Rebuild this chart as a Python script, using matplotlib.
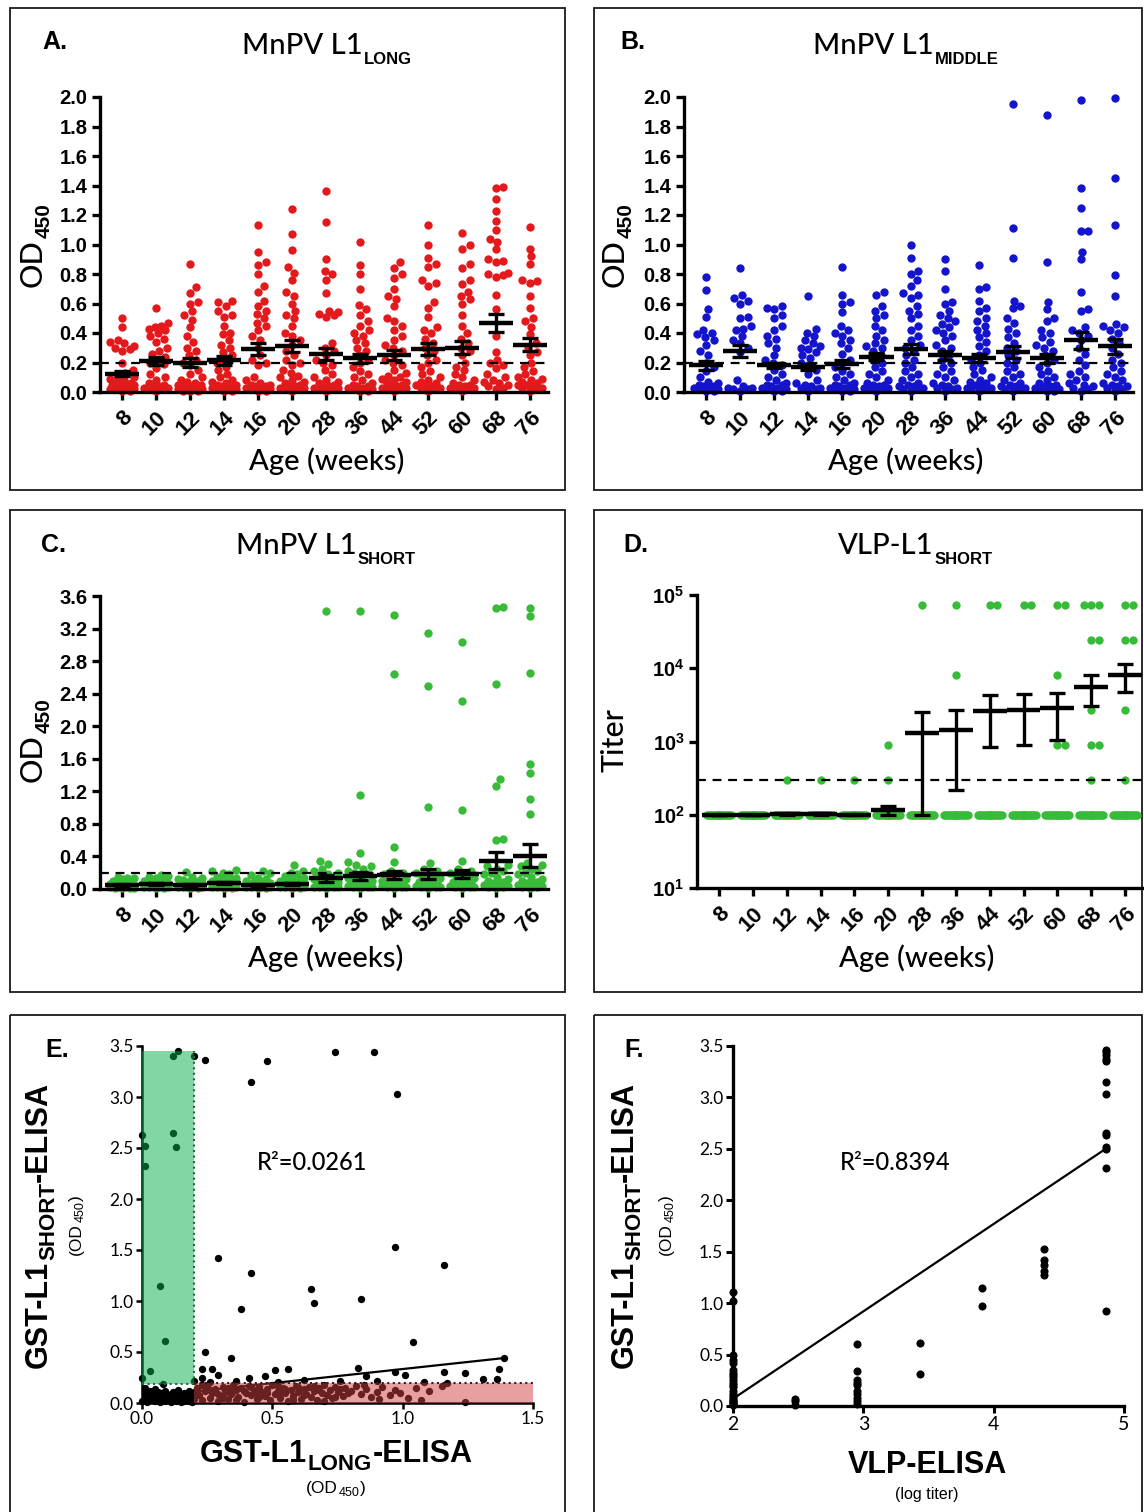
import numpy as np
import matplotlib
matplotlib.use('Agg')
import matplotlib.pyplot as plt
from matplotlib import font_manager as fm
from matplotlib.patches import Rectangle

# ---------------- data ----------------
ages = ['8', '10', '12', '14', '16', '20', '28', '36', '44', '52', '60', '68', '76']

long_vals = [
    [0.50, 0.44, 0.35, 0.34, 0.33, 0.31, 0.30, 0.29, 0.28, 0.20, 0.15, 0.13, 0.11, 0.10, 0.09, 0.08, 0.07, 0.06, 0.06, 0.05, 0.05, 0.05, 0.04, 0.04, 0.04, 0.03, 0.03, 0.03, 0.02, 0.02, 0.02, 0.01, 0.01],
    [0.57, 0.47, 0.45, 0.44, 0.43, 0.42, 0.40, 0.38, 0.36, 0.34, 0.30, 0.28, 0.26, 0.24, 0.22, 0.20, 0.19, 0.16, 0.12, 0.10, 0.08, 0.06, 0.05, 0.04, 0.04, 0.03, 0.03, 0.02, 0.02, 0.01],
    [0.87, 0.71, 0.67, 0.61, 0.60, 0.55, 0.52, 0.49, 0.44, 0.38, 0.34, 0.30, 0.28, 0.25, 0.22, 0.20, 0.18, 0.15, 0.12, 0.10, 0.08, 0.07, 0.06, 0.05, 0.05, 0.04, 0.04, 0.03, 0.03, 0.03, 0.02, 0.02, 0.02, 0.01, 0.01, 0.01],
    [0.62, 0.61, 0.58, 0.55, 0.52, 0.51, 0.45, 0.40, 0.39, 0.35, 0.32, 0.30, 0.27, 0.25, 0.22, 0.20, 0.17, 0.15, 0.12, 0.10, 0.08, 0.07, 0.06, 0.05, 0.05, 0.04, 0.04, 0.03, 0.03, 0.02, 0.02, 0.01, 0.01],
    [1.13, 0.95, 0.88, 0.86, 0.80, 0.72, 0.68, 0.62, 0.58, 0.55, 0.53, 0.50, 0.47, 0.45, 0.42, 0.38, 0.35, 0.30, 0.25, 0.22, 0.20, 0.18, 0.10, 0.08, 0.06, 0.05, 0.05, 0.04, 0.04, 0.03, 0.03, 0.02, 0.02, 0.01, 0.01],
    [1.24, 1.07, 0.96, 0.85, 0.81, 0.76, 0.68, 0.65, 0.60, 0.55, 0.52, 0.50, 0.45, 0.40, 0.38, 0.35, 0.32, 0.28, 0.25, 0.22, 0.20, 0.18, 0.15, 0.13, 0.11, 0.10, 0.08, 0.07, 0.06, 0.05, 0.04, 0.04, 0.03, 0.03, 0.02, 0.02, 0.01],
    [1.36, 1.15, 0.90, 0.82, 0.80, 0.76, 0.67, 0.55, 0.54, 0.53, 0.52, 0.51, 0.33, 0.30, 0.28, 0.25, 0.22, 0.20, 0.18, 0.15, 0.12, 0.10, 0.08, 0.07, 0.06, 0.05, 0.04, 0.04, 0.03, 0.03, 0.02, 0.02, 0.01],
    [1.02, 0.86, 0.80, 0.70, 0.59, 0.56, 0.52, 0.48, 0.45, 0.42, 0.40, 0.38, 0.35, 0.33, 0.30, 0.28, 0.25, 0.22, 0.20, 0.17, 0.14, 0.12, 0.10, 0.08, 0.06, 0.05, 0.04, 0.04, 0.03, 0.03, 0.02, 0.02, 0.01, 0.01],
    [0.88, 0.84, 0.80, 0.77, 0.70, 0.65, 0.63, 0.58, 0.50, 0.48, 0.45, 0.42, 0.38, 0.35, 0.32, 0.30, 0.28, 0.25, 0.22, 0.20, 0.18, 0.15, 0.13, 0.11, 0.10, 0.09, 0.08, 0.07, 0.06, 0.05, 0.04, 0.04, 0.03, 0.03, 0.02, 0.02, 0.01],
    [1.13, 1.00, 0.91, 0.87, 0.85, 0.76, 0.74, 0.72, 0.61, 0.57, 0.51, 0.44, 0.42, 0.40, 0.36, 0.33, 0.30, 0.28, 0.25, 0.22, 0.20, 0.17, 0.14, 0.12, 0.10, 0.08, 0.07, 0.06, 0.05, 0.04, 0.04, 0.03, 0.03, 0.02, 0.01],
    [1.08, 1.00, 0.97, 0.87, 0.84, 0.76, 0.73, 0.68, 0.65, 0.63, 0.60, 0.52, 0.45, 0.40, 0.36, 0.33, 0.30, 0.28, 0.25, 0.20, 0.17, 0.15, 0.12, 0.10, 0.08, 0.06, 0.05, 0.05, 0.04, 0.03, 0.03, 0.02, 0.02, 0.01],
    [1.39, 1.38, 1.31, 1.23, 1.16, 1.10, 1.04, 1.02, 0.97, 0.90, 0.89, 0.88, 0.81, 0.80, 0.79, 0.78, 0.66, 0.56, 0.38, 0.27, 0.22, 0.20, 0.18, 0.16, 0.12, 0.10, 0.08, 0.07, 0.06, 0.05, 0.04, 0.03, 0.02],
    [1.12, 0.97, 0.92, 0.87, 0.76, 0.75, 0.74, 0.65, 0.57, 0.50, 0.48, 0.44, 0.39, 0.33, 0.30, 0.27, 0.25, 0.20, 0.17, 0.14, 0.12, 0.10, 0.09, 0.08, 0.07, 0.06, 0.05, 0.05, 0.04, 0.03, 0.03, 0.02, 0.01],
]
long_mean = [0.125, 0.21, 0.20, 0.215, 0.29, 0.31, 0.26, 0.23, 0.25, 0.29, 0.30, 0.47, 0.32]
long_sem = [0.015, 0.03, 0.03, 0.03, 0.04, 0.04, 0.04, 0.03, 0.035, 0.04, 0.045, 0.06, 0.045]

middle_vals = [
    [0.78, 0.69, 0.56, 0.51, 0.42, 0.40, 0.39, 0.37, 0.35, 0.32, 0.28, 0.25, 0.20, 0.17, 0.14, 0.10, 0.07, 0.06, 0.05, 0.04, 0.04, 0.03, 0.03, 0.02, 0.02, 0.01, 0.01],
    [0.84, 0.66, 0.64, 0.62, 0.60, 0.51, 0.50, 0.45, 0.43, 0.42, 0.38, 0.35, 0.33, 0.30, 0.27, 0.08, 0.04, 0.03, 0.03, 0.02, 0.02, 0.01],
    [0.58, 0.57, 0.56, 0.52, 0.50, 0.45, 0.42, 0.38, 0.36, 0.33, 0.30, 0.25, 0.22, 0.20, 0.18, 0.15, 0.12, 0.10, 0.08, 0.06, 0.05, 0.05, 0.04, 0.03, 0.03, 0.02, 0.02, 0.01, 0.01],
    [0.65, 0.43, 0.40, 0.38, 0.35, 0.33, 0.31, 0.30, 0.29, 0.27, 0.25, 0.23, 0.20, 0.18, 0.15, 0.12, 0.08, 0.06, 0.05, 0.04, 0.03, 0.03, 0.02, 0.01],
    [0.85, 0.66, 0.61, 0.60, 0.54, 0.45, 0.42, 0.40, 0.38, 0.35, 0.33, 0.30, 0.26, 0.22, 0.20, 0.17, 0.14, 0.12, 0.10, 0.08, 0.06, 0.05, 0.05, 0.04, 0.03, 0.03, 0.02, 0.02, 0.01, 0.01],
    [0.68, 0.66, 0.58, 0.55, 0.52, 0.50, 0.45, 0.42, 0.38, 0.35, 0.33, 0.31, 0.30, 0.28, 0.25, 0.22, 0.20, 0.17, 0.14, 0.12, 0.10, 0.08, 0.06, 0.05, 0.05, 0.04, 0.03, 0.03, 0.02, 0.02, 0.01],
    [1.00, 0.91, 0.82, 0.80, 0.76, 0.72, 0.67, 0.66, 0.64, 0.58, 0.55, 0.53, 0.50, 0.45, 0.42, 0.38, 0.35, 0.32, 0.30, 0.28, 0.25, 0.22, 0.20, 0.17, 0.14, 0.12, 0.10, 0.08, 0.06, 0.05, 0.04, 0.04, 0.03, 0.02, 0.02, 0.01],
    [0.90, 0.82, 0.70, 0.61, 0.60, 0.55, 0.52, 0.50, 0.48, 0.46, 0.44, 0.42, 0.40, 0.38, 0.35, 0.32, 0.30, 0.28, 0.25, 0.22, 0.20, 0.17, 0.14, 0.12, 0.10, 0.08, 0.06, 0.05, 0.04, 0.03, 0.03, 0.02, 0.01],
    [0.86, 0.71, 0.70, 0.62, 0.57, 0.55, 0.50, 0.48, 0.45, 0.42, 0.40, 0.37, 0.34, 0.31, 0.28, 0.25, 0.22, 0.20, 0.17, 0.15, 0.12, 0.10, 0.08, 0.07, 0.06, 0.05, 0.04, 0.03, 0.03, 0.02, 0.02, 0.01],
    [1.95, 1.11, 0.91, 0.62, 0.58, 0.57, 0.50, 0.47, 0.43, 0.40, 0.37, 0.33, 0.30, 0.28, 0.25, 0.22, 0.20, 0.17, 0.14, 0.12, 0.10, 0.08, 0.06, 0.05, 0.04, 0.04, 0.03, 0.02, 0.02, 0.01],
    [1.88, 0.88, 0.61, 0.56, 0.50, 0.48, 0.42, 0.40, 0.37, 0.34, 0.32, 0.30, 0.28, 0.25, 0.22, 0.20, 0.17, 0.14, 0.12, 0.10, 0.08, 0.06, 0.05, 0.04, 0.04, 0.03, 0.02, 0.02, 0.01, 0.01],
    [1.98, 1.38, 1.25, 1.09, 1.09, 0.95, 0.90, 0.68, 0.56, 0.55, 0.44, 0.42, 0.40, 0.38, 0.35, 0.30, 0.26, 0.22, 0.18, 0.14, 0.12, 0.10, 0.08, 0.06, 0.05, 0.04, 0.03, 0.02, 0.01],
    [1.99, 1.45, 1.13, 0.79, 0.65, 0.46, 0.45, 0.44, 0.42, 0.40, 0.36, 0.33, 0.30, 0.26, 0.22, 0.20, 0.17, 0.14, 0.12, 0.10, 0.08, 0.06, 0.05, 0.04, 0.04, 0.03, 0.02, 0.01],
]
middle_mean = [0.18, 0.28, 0.18, 0.17, 0.19, 0.24, 0.29, 0.25, 0.23, 0.27, 0.23, 0.35, 0.31]
middle_sem = [0.03, 0.04, 0.02, 0.02, 0.025, 0.025, 0.035, 0.03, 0.025, 0.04, 0.03, 0.06, 0.05]

short_vals = [
    [0.15, 0.14, 0.13, 0.12, 0.10, 0.09, 0.08, 0.07, 0.06, 0.05, 0.05, 0.04, 0.04, 0.03, 0.03, 0.02, 0.02, 0.02, 0.01, 0.01, 0.01, 0.01],
    [0.17, 0.16, 0.15, 0.13, 0.12, 0.10, 0.09, 0.08, 0.07, 0.06, 0.05, 0.05, 0.04, 0.04, 0.03, 0.03, 0.02, 0.02, 0.01, 0.01],
    [0.21, 0.15, 0.13, 0.12, 0.11, 0.10, 0.09, 0.08, 0.07, 0.06, 0.05, 0.05, 0.04, 0.04, 0.03, 0.03, 0.02, 0.02, 0.02, 0.01, 0.01],
    [0.23, 0.22, 0.20, 0.18, 0.15, 0.14, 0.12, 0.11, 0.10, 0.09, 0.08, 0.07, 0.06, 0.05, 0.05, 0.04, 0.04, 0.03, 0.03, 0.02, 0.02, 0.01, 0.01],
    [0.22, 0.20, 0.17, 0.14, 0.12, 0.10, 0.09, 0.08, 0.07, 0.06, 0.05, 0.05, 0.04, 0.04, 0.03, 0.03, 0.02, 0.02, 0.01, 0.01],
    [0.29, 0.22, 0.20, 0.18, 0.16, 0.14, 0.12, 0.11, 0.10, 0.09, 0.08, 0.07, 0.06, 0.05, 0.05, 0.04, 0.04, 0.03, 0.03, 0.02, 0.02, 0.01, 0.01],
    [3.41, 0.34, 0.31, 0.24, 0.22, 0.20, 0.18, 0.16, 0.14, 0.12, 0.10, 0.09, 0.08, 0.07, 0.06, 0.05, 0.05, 0.04, 0.03, 0.03, 0.02, 0.02, 0.01],
    [3.41, 1.15, 0.44, 0.33, 0.30, 0.28, 0.25, 0.22, 0.20, 0.18, 0.16, 0.14, 0.12, 0.10, 0.09, 0.08, 0.07, 0.06, 0.05, 0.04, 0.04, 0.03, 0.03, 0.02, 0.01],
    [3.37, 2.64, 0.51, 0.33, 0.22, 0.20, 0.18, 0.16, 0.14, 0.12, 0.10, 0.09, 0.08, 0.07, 0.06, 0.05, 0.04, 0.04, 0.03, 0.02, 0.02, 0.01],
    [3.15, 2.50, 1.01, 0.32, 0.25, 0.22, 0.20, 0.18, 0.16, 0.14, 0.12, 0.10, 0.08, 0.07, 0.06, 0.05, 0.04, 0.03, 0.03, 0.02, 0.01],
    [3.03, 2.31, 0.97, 0.34, 0.25, 0.22, 0.20, 0.18, 0.16, 0.14, 0.12, 0.10, 0.08, 0.07, 0.06, 0.05, 0.04, 0.03, 0.03, 0.02, 0.01],
    [3.46, 3.45, 2.52, 1.35, 1.27, 0.61, 0.60, 0.30, 0.28, 0.25, 0.22, 0.20, 0.18, 0.15, 0.12, 0.10, 0.08, 0.07, 0.06, 0.05, 0.04, 0.03, 0.02, 0.01],
    [3.45, 3.35, 2.65, 1.53, 1.42, 1.11, 0.92, 0.32, 0.30, 0.28, 0.25, 0.22, 0.20, 0.18, 0.15, 0.12, 0.10, 0.08, 0.07, 0.06, 0.05, 0.04, 0.03, 0.02, 0.01],
]
short_mean = [0.05, 0.06, 0.05, 0.07, 0.05, 0.06, 0.13, 0.16, 0.17, 0.18, 0.18, 0.35, 0.41]
short_sem = [0.01, 0.01, 0.01, 0.01, 0.01, 0.01, 0.04, 0.05, 0.05, 0.06, 0.05, 0.11, 0.14]

# VLP titers: number of animals at the assay floor (100) and the positive titers
vlp_floor_titer = 100
vlp_floor_count = [24, 24, 23, 23, 23, 22, 20, 20, 20, 20, 19, 18, 18]
vlp_positive = [
    [], [], [300], [300], [300], [900, 300], [72900], [72900, 8100],
    [72900, 72900], [72900, 72900], [72900, 72900, 8100, 900, 900],
    [72900, 72900, 72900, 24300, 24300, 2700, 900, 900, 300],
    [72900, 72900, 24300, 24300, 2700, 300],
]
vlp_mean = [100, 100, 101, 103, 100, 115, 1300, 1450, 2600, 2650, 2850, 5600, 8100]
vlp_sem = [0, 0, 1, 3, 1, 15, 1200, 1230, 1750, 1750, 1800, 2500, 3300]

od_cutoff = 0.2
vlp_cutoff = 300

# Panel E: paired GST-L1 LONG vs SHORT ELISA
e_long = [0.00, 0.01, 0.01, 0.02, 0.02, 0.03, 0.03, 0.04, 0.04, 0.05, 0.05, 0.06, 0.06, 0.07, 0.07, 0.08, 0.08, 0.09, 0.09, 0.10,
          0.10, 0.11, 0.11, 0.12, 0.12, 0.13, 0.13, 0.14, 0.14, 0.15, 0.15, 0.16, 0.16, 0.17, 0.17, 0.18, 0.18, 0.19, 0.19, 0.20,
          0.20, 0.01, 0.03, 0.06, 0.09, 0.13, 0.16, 0.19,
          0.00, 0.01, 0.01, 0.12, 0.14, 0.12, 0.13, 0.07, 0.09, 0.03, 0.20, 0.08, 0.20, 0.00,
          0.24, 0.42, 0.48, 0.74, 0.89, 0.98, 0.29, 0.42, 0.38, 0.65, 0.66, 0.84, 0.97, 1.16, 1.04, 0.24, 0.34, 1.39, 0.23, 0.27,
          0.51, 0.56, 0.83, 1.37, 0.29, 0.23, 0.41, 0.47, 0.36, 0.62, 0.76, 0.86, 0.97, 1.01, 1.16, 1.24, 1.31, 1.36, 0.26, 0.52,
          1.08, 0.90, 1.17,
          0.21, 0.22, 0.23, 0.24, 0.25, 0.26, 0.27, 0.28, 0.29, 0.30, 0.31, 0.32, 0.33, 0.34, 0.35, 0.36, 0.37, 0.38, 0.39, 0.40,
          0.41, 0.42, 0.43, 0.44, 0.45, 0.46, 0.47, 0.48, 0.49, 0.50, 0.51, 0.52, 0.53, 0.54, 0.55, 0.56, 0.57, 0.58, 0.59, 0.60,
          0.61, 0.62, 0.63, 0.64, 0.65, 0.66, 0.67, 0.68, 0.69, 0.70, 0.71, 0.72, 0.73, 0.74, 0.75, 0.77, 0.78, 0.80, 0.82, 0.84,
          0.86, 0.88, 0.90, 0.92, 0.95, 0.97, 0.99, 1.02, 1.05, 1.07, 1.10, 1.15, 1.24, 0.23, 0.26, 0.29, 0.33, 0.36, 0.39, 0.42,
          0.45, 0.48, 0.52, 0.55, 0.58, 0.62, 0.66, 0.70, 0.74, 0.79, 0.85, 0.91, 0.31, 0.35, 0.44, 0.53, 0.60, 0.68, 0.76]
e_short = [0.02, 0.05, 0.10, 0.01, 0.07, 0.03, 0.12, 0.05, 0.09, 0.02, 0.14, 0.06, 0.03, 0.10, 0.01, 0.04, 0.08, 0.12, 0.02, 0.06,
           0.03, 0.09, 0.01, 0.05, 0.11, 0.02, 0.07, 0.04, 0.13, 0.08, 0.01, 0.05, 0.10, 0.03, 0.07, 0.12, 0.02, 0.06, 0.09, 0.04,
           0.11, 0.15, 0.08, 0.11, 0.07, 0.10, 0.02, 0.01,
           2.63, 2.52, 2.32, 3.40, 3.45, 2.65, 2.51, 1.15, 0.61, 0.31, 3.40, 0.19, 0.22, 0.25,
           3.36, 3.15, 3.35, 3.44, 3.44, 3.03, 1.42, 1.27, 0.92, 1.12, 0.98, 1.02, 1.53, 1.35, 0.60, 0.50, 0.44, 0.44, 0.33, 0.33,
           0.32, 0.33, 0.34, 0.33, 0.27, 0.25, 0.25, 0.26, 0.22, 0.23, 0.22, 0.26, 0.30, 0.27, 0.30, 0.29, 0.24, 0.24, 0.21, 0.21,
           0.21, 0.22, 0.20,
           0.15, 0.08, 0.03, 0.12, 0.17, 0.05, 0.10, 0.14, 0.02, 0.07, 0.16, 0.11, 0.04, 0.09, 0.18, 0.13, 0.06, 0.15, 0.01, 0.10,
           0.17, 0.08, 0.13, 0.04, 0.16, 0.11, 0.07, 0.14, 0.03, 0.18, 0.09, 0.12, 0.05, 0.15, 0.10, 0.02, 0.13, 0.07, 0.17, 0.11,
           0.04, 0.14, 0.09, 0.16, 0.06, 0.12, 0.03, 0.15, 0.10, 0.18, 0.08, 0.13, 0.05, 0.16, 0.11, 0.07, 0.15, 0.12, 0.17, 0.09,
           0.14, 0.06, 0.11, 0.16, 0.08, 0.13, 0.10, 0.05, 0.15, 0.03, 0.12, 0.17, 0.01, 0.18, 0.13, 0.09, 0.15, 0.03, 0.12, 0.16,
           0.06, 0.10, 0.17, 0.14, 0.03, 0.08, 0.17, 0.02, 0.06, 0.10, 0.18, 0.04, 0.05, 0.12, 0.09, 0.11, 0.16, 0.13, 0.14]
e_fit_slope, e_fit_intercept = 0.277, 0.056
e_fit_xmax = 1.39
e_r2 = 'R\u00b2=0.0261'
e_green_box = (0.0, 0.2, 0.19, 3.45)   # x0, x1, y0, y1
e_red_box = (0.2, 1.5, 0.0, 0.2)

# Panel F: log VLP titer vs GST-L1 SHORT ELISA
f_log_titer = [2.0, 2.0, 2.0, 2.0, 2.0, 2.0, 2.0, 2.0, 2.0, 2.0, 2.0, 2.0, 2.0, 2.0, 2.0, 2.0, 2.0, 2.0, 2.0, 2.0, 2.0, 2.0, 2.0,
               2.477, 2.477, 2.477,
               2.954, 2.954, 2.954, 2.954, 2.954, 2.954, 2.954, 2.954, 2.954, 2.954,
               3.431, 3.431, 3.908, 3.908,
               4.386, 4.386, 4.386, 4.386, 4.386,
               4.863, 4.863, 4.863, 4.863, 4.863, 4.863, 4.863, 4.863, 4.863, 4.863, 4.863, 4.863, 4.863]
f_short = [1.11, 1.02, 0.50, 0.45, 0.42, 0.35, 0.32, 0.30, 0.28, 0.25, 0.22, 0.20, 0.18, 0.15, 0.12, 0.10, 0.08, 0.06, 0.05, 0.04, 0.03, 0.02, 0.01,
           0.07, 0.05, 0.01,
           0.60, 0.34, 0.25, 0.22, 0.20, 0.15, 0.12, 0.08, 0.05, 0.02,
           0.61, 0.31, 1.15, 0.97,
           1.53, 1.42, 1.37, 1.31, 1.27,
           3.46, 3.44, 3.41, 3.37, 3.35, 3.15, 3.03, 2.65, 2.63, 2.52, 2.50, 2.31, 0.92]
f_fit_slope, f_fit_intercept = 0.85, -1.63
f_fit_x = (2.0, 4.863)
f_r2 = 'R\u00b2=0.8394'

# ---------------- fonts ----------------
names = {f.name for f in fm.fontManager.ttflist}
NARROW = 'Liberation Sans Narrow' if 'Liberation Sans Narrow' in names else 'Liberation Sans'
ARIAL = 'Liberation Sans'
HUM = 'Lato' if 'Lato' in names else 'DejaVu Sans'
HUMW = 'medium'
plt.rcParams['mathtext.fontset'] = 'custom'
plt.rcParams['mathtext.rm'] = NARROW
plt.rcParams['mathtext.bf'] = NARROW + ':bold'

W, H = 1144, 1512
fig = plt.figure(figsize=(W / 100, H / 100), dpi=100)
bg = fig.add_axes([0, 0, 1, 1])
bg.set_xlim(0, W)
bg.set_ylim(H, 0)
bg.axis('off')


def add_ax(l, t, r, b):
    return fig.add_axes([l / W, 1 - b / H, (r - l) / W, (b - t) / H])


# panel frames
for (x0, y0, x1, y1) in [(10, 8, 565, 490), (594, 8, 1142, 490), (10, 510, 565, 992),
                         (594, 510, 1142, 992), (10, 1015, 565, 1516), (594, 1015, 1142, 1516)]:
    bg.add_patch(Rectangle((x0, y0), x1 - x0, y1 - y0, fill=False, lw=1.3, ec='#1a1a1a'))

composites = []


def composite(parts, cx, cy, rot=False, subdrop=0.35):
    """parts: list of (text, size, weight, family, kind) kind in base/sub/same"""
    arts = []
    t0 = None
    prev = None
    for (txt, size, weight, fam, kind) in parts:
        kw = dict(fontsize=size, fontweight=weight, family=fam)
        if t0 is None:
            if rot:
                t0 = bg.text(cx, cy, txt, rotation=90, ha='right', va='bottom', **kw)
            else:
                t0 = bg.text(cx, cy, txt, ha='left', va='bottom', **kw)
            prev = t0
            arts.append(t0)
            continue
        if rot:
            off = (size * subdrop, 0.5) if kind == 'sub' else (0, 0.5)
            a = bg.annotate(txt, xy=(1, 1), xycoords=(t0, prev), xytext=off, textcoords='offset points',
                            rotation=90, ha='right', va='bottom', **kw)
        else:
            off = (0.5, -size * subdrop) if kind == 'sub' else (0.5, 0)
            a = bg.annotate(txt, xy=(1, 0), xycoords=(prev, t0), xytext=off, textcoords='offset points',
                            ha='left', va='bottom', **kw)
        prev = a
        arts.append(a)
    composites.append((arts, cx, cy))
    return arts


def swarm_offsets(ypx, d=7.5, hw=12.0, step=1.5):
    cands = [0.0]
    k = 1
    while k * step <= hw + 1e-9:
        cands += [k * step, -k * step]
        k += 1
    order = np.argsort(ypx)
    px, py = [], []
    offs = np.zeros(len(ypx))
    for i in order:
        y = ypx[i]
        best, bestd = 0.0, -1
        for c in cands:
            if px:
                dm = np.min(np.hypot(np.array(px) - c, np.array(py) - y))
            else:
                dm = 1e9
            if dm >= d:
                best = c
                break
            if dm > bestd:
                bestd, best = dm, c
        offs[i] = best
        px.append(best)
        py.append(y)
    return offs


ytick_fp = fm.FontProperties(family=NARROW, weight='bold', size=14.5)
xtick_fp = fm.FontProperties(family=NARROW, weight='bold', size=16)


def dot_panel(ax, groups, color, means, sems, cutoff, ylim, yticks, ylabels, log=False):
    n = len(groups)
    if log:
        ax.set_yscale('log')
    ax.set_xlim(-0.65, n - 1 + 0.53)
    ax.set_ylim(*ylim)
    for s in ['top', 'right']:
        ax.spines[s].set_visible(False)
    for s in ['left', 'bottom']:
        ax.spines[s].set_linewidth(2.4)
    ax.set_yticks(yticks)
    ax.set_yticklabels(ylabels, fontproperties=ytick_fp)
    ax.minorticks_off()
    ax.set_xticks(range(n))
    ax.set_xticklabels(ages, fontproperties=xtick_fp, rotation=45, ha='right', va='top', rotation_mode='anchor')
    ax.tick_params(axis='both', direction='out', length=6, width=2.4, pad=3)
    ax.tick_params(axis='x', pad=5)
    ax.patch.set_alpha(0)
    pxcat = ax.transData.transform((1, ylim[0]))[0] - ax.transData.transform((0, ylim[0]))[0]
    for i, vals in enumerate(groups):
        vals = np.asarray(vals, float)
        ypx = ax.transData.transform(np.c_[np.zeros(len(vals)), vals])[:, 1]
        offs = swarm_offsets(ypx)
        ax.scatter(i + offs / pxcat, vals, s=36, color=color, lw=0, clip_on=False, zorder=2)
    ax.axhline(cutoff, color='k', lw=1.6, ls=(0, (4, 3)), zorder=3)
    xs = np.arange(n)
    ax.hlines(means, xs - 0.5, xs + 0.5, color='k', lw=3.2, zorder=4)
    ax.errorbar(xs, means, yerr=sems, fmt='none', ecolor='k', elinewidth=2.4, capsize=5.5, capthick=2.4, zorder=4)


RED, BLUE, GREEN = '#e3191c', '#1414cc', '#38bb38'

axA = add_ax(100, 97, 548, 392)
dot_panel(axA, long_vals, RED, long_mean, long_sem, od_cutoff, (0, 2.0),
          np.round(np.arange(0, 2.01, 0.2), 1), ['%.1f' % v for v in np.arange(0, 2.01, 0.2)])
axB = add_ax(684, 97, 1133, 392)
dot_panel(axB, middle_vals, BLUE, middle_mean, middle_sem, od_cutoff, (0, 2.0),
          np.round(np.arange(0, 2.01, 0.2), 1), ['%.1f' % v for v in np.arange(0, 2.01, 0.2)])
axC = add_ax(100, 596, 548, 889)
dot_panel(axC, short_vals, GREEN, short_mean, short_sem, od_cutoff, (0, 3.6),
          np.round(np.arange(0, 3.61, 0.4), 1), ['%.1f' % v for v in np.arange(0, 3.61, 0.4)])
axD = add_ax(697, 595, 1143, 888)
vlp_groups = [list(p) + [vlp_floor_titer] * c for p, c in zip(vlp_positive, vlp_floor_count)]
dot_panel(axD, vlp_groups, GREEN, vlp_mean, vlp_sem, vlp_cutoff, (10, 1e5),
          [10, 100, 1000, 1e4, 1e5], [r'$\mathbf{10^{%d}}$' % k for k in range(1, 6)], log=True)

# panel texts A-D
for lab, (lx, ly) in zip(['A.', 'B.', 'C.', 'D.'], [(55, 42), (633, 42), (53, 545), (636, 545)]):
    bg.text(lx, ly, lab, ha='center', va='center', fontsize=18, fontweight='bold', family=ARIAL)
TS = 21
composite([('MnPV L1', TS, HUMW, HUM, 'base'), ('LONG', 12, 'bold', ARIAL, 'sub')], 327, 50, subdrop=0.45)
composite([('MnPV L1', TS, HUMW, HUM, 'base'), ('MIDDLE', 12, 'bold', ARIAL, 'sub')], 906, 50, subdrop=0.45)
composite([('MnPV L1', TS, HUMW, HUM, 'base'), ('SHORT', 12, 'bold', ARIAL, 'sub')], 326, 550, subdrop=0.45)
composite([('VLP-L1', TS, HUMW, HUM, 'base'), ('SHORT', 12, 'bold', ARIAL, 'sub')], 915, 550, subdrop=0.45)
for cx, cy in [(36, 245), (618, 245), (36, 740)]:
    composite([('OD', 22, HUMW, HUM, 'base'), ('450', 15, 'bold', ARIAL, 'sub')], cx, cy, rot=True)
bg.text(615, 740, 'Titer', rotation=90, ha='center', va='center', fontsize=22, fontweight=HUMW, family=HUM)
for cx, cy in [(327, 461), (906, 461), (326, 958), (917, 958)]:
    bg.text(cx, cy, 'Age (weeks)', ha='center', va='center', fontsize=21, fontweight=HUMW, family=HUM)

# ---------------- panel E ----------------
small_fp = fm.FontProperties(family=HUM, size=12.5)
axE = add_ax(142, 1046, 533, 1403)
axE.set_xlim(0, 1.5)
axE.set_ylim(0, 3.5)
axE.patch.set_alpha(0)
for s in ['top', 'right']:
    axE.spines[s].set_visible(False)
for s in ['left', 'bottom']:
    axE.spines[s].set_linewidth(1.8)
axE.set_xticks([0, 0.5, 1.0, 1.5])
axE.set_xticklabels(['0.0', '0.5', '1.0', '1.5'], fontproperties=small_fp)
axE.set_yticks(np.arange(0, 3.51, 0.5))
axE.set_yticklabels(['%.1f' % v for v in np.arange(0, 3.51, 0.5)], fontproperties=small_fp)
axE.tick_params(direction='out', length=4, width=1.8, pad=2)
axE.scatter(e_long, e_short, s=28, color='k', lw=0, clip_on=False, zorder=2)
xx = np.array([0.0, e_fit_xmax])
axE.plot(xx, e_fit_slope * xx + e_fit_intercept, color='k', lw=1.6, zorder=2)
gx0, gx1, gy0, gy1 = e_green_box
axE.add_patch(Rectangle((gx0, gy0), gx1 - gx0, gy1 - gy0, color='#05af4b', alpha=0.5, lw=0, zorder=3))
rx0, rx1, ry0, ry1 = e_red_box
axE.add_patch(Rectangle((rx0, ry0), rx1 - rx0, ry1 - ry0, color='#d14141', alpha=0.5, lw=0, zorder=3))
axE.plot([gx1, gx1], [gy0, gy1], color='#13703a', lw=1.5, ls=':', zorder=4)
axE.plot([gx0, gx1], [gy0, gy0], color='#13703a', lw=1.5, ls=':', zorder=4)
axE.plot([rx0, rx1], [ry1, ry1], color='#3a1a1a', lw=1.5, ls=':', zorder=4)
bg.text(312, 1163, e_r2, ha='center', va='center', fontsize=17, fontweight=HUMW, family=HUM)
bg.text(57, 1050, 'E.', ha='center', va='center', fontsize=18, fontweight='bold', family=ARIAL)
composite([('GST-L1', 22, 'bold', ARIAL, 'base'), ('SHORT', 16, 'bold', ARIAL, 'sub'),
           ('-ELISA', 22, 'bold', ARIAL, 'same')], 42, 1225, rot=True, subdrop=0.25)
composite([('(OD', 12.5, 'normal', ARIAL, 'base'), ('450', 9, 'normal', ARIAL, 'sub'),
           (')', 12.5, 'normal', ARIAL, 'same')], 78, 1225, rot=True, subdrop=0.25)
composite([('GST-L1', 22, 'bold', ARIAL, 'base'), ('LONG', 16, 'bold', ARIAL, 'sub'),
           ('-ELISA', 22, 'bold', ARIAL, 'same')], 336, 1457, subdrop=0.25)
composite([('(OD', 12.5, 'normal', ARIAL, 'base'), ('450', 9, 'normal', ARIAL, 'sub'),
           (')', 12.5, 'normal', ARIAL, 'same')], 336, 1490, subdrop=0.25)

# ---------------- panel F ----------------
axF = add_ax(733, 1046, 1124, 1406)
axF.set_xlim(2, 5)
axF.set_ylim(0, 3.5)
axF.patch.set_alpha(0)
for s in ['top', 'right']:
    axF.spines[s].set_visible(False)
for s in ['left', 'bottom']:
    axF.spines[s].set_linewidth(2.4)
axF.set_xticks([2, 3, 4, 5])
axF.set_xticklabels(['2', '3', '4', '5'], fontproperties=fm.FontProperties(family=HUM, size=14))
axF.set_yticks(np.arange(0, 3.51, 0.5))
axF.set_yticklabels(['%.1f' % v for v in np.arange(0, 3.51, 0.5)], fontproperties=small_fp)
axF.tick_params(direction='out', length=5, width=2.2, pad=2)
axF.scatter(f_log_titer, f_short, s=34, color='k', lw=0, clip_on=False, zorder=3)
fx = np.array(f_fit_x)
axF.plot(fx, f_fit_slope * fx + f_fit_intercept, color='k', lw=1.6, zorder=2)
bg.text(895, 1163, f_r2, ha='center', va='center', fontsize=17, fontweight=HUMW, family=HUM)
bg.text(634, 1050, 'F.', ha='center', va='center', fontsize=18, fontweight='bold', family=ARIAL)
composite([('GST-L1', 22, 'bold', ARIAL, 'base'), ('SHORT', 16, 'bold', ARIAL, 'sub'),
           ('-ELISA', 22, 'bold', ARIAL, 'same')], 628, 1225, rot=True, subdrop=0.25)
composite([('(OD', 12.5, 'normal', ARIAL, 'base'), ('450', 9, 'normal', ARIAL, 'sub'),
           (')', 12.5, 'normal', ARIAL, 'same')], 668, 1225, rot=True, subdrop=0.25)
bg.text(927, 1465, 'VLP-ELISA', ha='center', va='center', fontsize=22, fontweight='bold', family=ARIAL)
bg.text(927, 1494, '(log titer)', ha='center', va='center', fontsize=11.5, family=ARIAL)

# center the composite labels
fig.canvas.draw()
r = fig.canvas.get_renderer()
for arts, cx, cy in composites:
    exts = [a.get_window_extent(r) for a in arts]
    x0 = min(e.x0 for e in exts); x1 = max(e.x1 for e in exts)
    y0 = min(e.y0 for e in exts); y1 = max(e.y1 for e in exts)
    mx = (x0 + x1) / 2
    my = H - (y0 + y1) / 2
    px, py = arts[0].get_position()
    arts[0].set_position((px + (cx - mx), py + (cy - my)))

fig.savefig('out.png', dpi=100)
